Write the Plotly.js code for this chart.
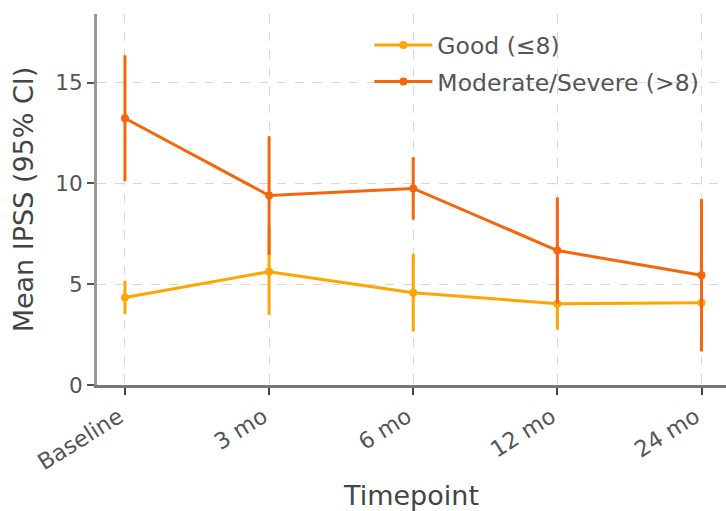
<!DOCTYPE html>
<html>
<head>
<meta charset="utf-8">
<script src="https://cdn.plot.ly/plotly-3.0.1.min.js"></script>
<style>html,body{margin:0;padding:0;background:#fff;}#chart{width:726px;height:511px;}</style>
</head>
<body>
<div id="chart"></div>
<script>
const timepoints = ["Baseline", "3 mo", "6 mo", "12 mo", "24 mo"];
const goodMean = [4.34, 5.62, 4.58, 4.03, 4.08];
const goodCI = [0.83, 2.14, 1.93, 1.29, 1.3];
const modMean = [13.23, 9.4, 9.75, 6.67, 5.44];
const modCI = [3.12, 2.94, 1.55, 2.63, 3.78];

const goodColor = "#FFA500";
const modColor = "#F5650A";

function trace(name, y, ci, color, group) {
  return {
    type: "scatter", mode: "lines+markers", name: name,
    x: timepoints.map((_, i) => i), y: y,
    legendgroup: group,
    line: {color: color, width: 3},
    marker: {color: color, size: 8},
    error_y: {type: "data", array: ci, visible: true, color: color, thickness: 3, width: 0}
  };
}

const data = [
  trace("Good (≤8)", goodMean, goodCI, goodColor, "g"),
  trace("Moderate/Severe (>8)", modMean, modCI, modColor, "m")
];

const layout = {
  width: 726, height: 511,
  margin: {l: 97, r: 0, t: 14, b: 126},
  paper_bgcolor: "#fff", plot_bgcolor: "#fff",
  font: {family: "DejaVu Sans", color: "#444"},
  showlegend: true,
  legend: {x: 0.433, y: 0.975, xanchor: "left", yanchor: "top", font: {size: 23.5, color: "#555"},
           itemwidth: 58,
           bgcolor: "rgba(255,255,255,0)", traceorder: "grouped", tracegroupgap: 3},
  xaxis: {
    range: [-0.194, 4.17],
    tickvals: timepoints.map((_, i) => i), ticktext: timepoints,
    tickangle: -32, tickfont: {size: 22.5, color: "#555"},
    ticklabelshift: -6,
    showgrid: true, gridcolor: "#d8d8d8", griddash: "dash", gridwidth: 1,
    showline: true, linecolor: "#777", linewidth: 3,
    ticks: "outside", ticklen: 7, tickwidth: 2, tickcolor: "#444",
    zeroline: false,
    title: {text: "Timepoint", font: {size: 27, color: "#444"}, standoff: 18}
  },
  yaxis: {
    range: [0, 18.4],
    tickvals: [0, 5, 10, 15],
    tickfont: {size: 21.5, color: "#555"},
    showgrid: true, gridcolor: "#d8d8d8", griddash: "dash", gridwidth: 1,
    showline: true, linecolor: "#999", linewidth: 3,
    ticks: "outside", ticklen: 7, tickwidth: 2, tickcolor: "#555",
    zeroline: false,
    title: {text: "Mean IPSS (95% CI)", font: {size: 27, color: "#444"}, standoff: 14}
  }
};

Plotly.newPlot("chart", data, layout, {displayModeBar: false, staticPlot: true});
</script>
</body>
</html>
